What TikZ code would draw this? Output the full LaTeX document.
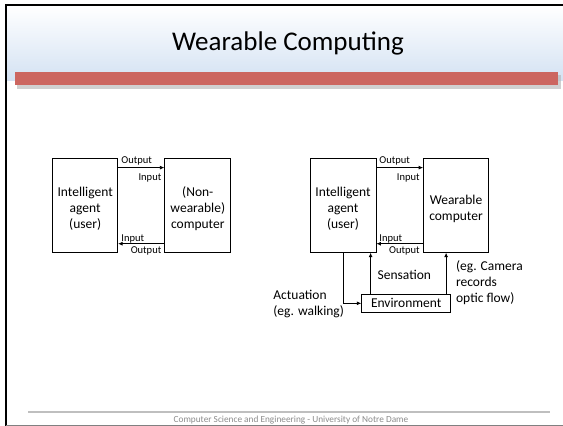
\documentclass[tikz,border=0pt]{standalone}
\usepackage{fontspec}
\setmainfont{Carlito}
\usetikzlibrary{arrows.meta}
\definecolor{barred}{RGB}{204,102,96}
\definecolor{headblue}{RGB}{212,226,243}
\definecolor{footgray}{RGB}{140,140,140}

\begin{document}
\begin{tikzpicture}[x=1pt,y=-1pt,line width=0.8pt,>={Latex[length=4.5pt,width=4pt]},
  box/.style={draw,minimum height=94pt,inner sep=0pt},
  boxtext/.style={align=center,inner sep=0pt,yshift=-3.5pt,font=\fontsize{13.5}{16}\selectfont},
  lbl/.style={inner sep=0pt,font=\fontsize{10.5}{12}\selectfont},
  txt/.style={inner sep=0pt,align=left,font=\fontsize{13.5}{16}\selectfont}]
		% slide frame
		\useasboundingbox (0,0) rectangle (563,426);
		\fill[white] (0,0) rectangle (563,426);
		\shade[top color=white,bottom color=headblue] (6,6) rectangle (563,80);
		\fill[black!30,opacity=.6] (17,75) rectangle (561,89);
		\fill[barred] (15,72) rectangle (558,85);
		\draw[black,line width=2pt] (6,426) -- (6,5) -- (563,5);
		\draw[black!50,line width=1pt] (6,425.5) -- (563,425.5);
		\draw[black!25,line width=2pt] (28,411.5) -- (550,411.5);
		\node[anchor=base,font=\fontsize{27}{32}\selectfont](title) at (288,50) {Wearable Computing};
		\node[anchor=base,text=footgray,font=\fontsize{9.3}{11}\selectfont](foot) at (291,422) {Computer Science and Engineering - University of Notre Dame};
		% left: user and ordinary computer
		\node[box,minimum width=65pt,label={[boxtext]center:Intelligent\\agent\\(user)}](agent1) at (85.2,205.3) {};
		\node[box,minimum width=66pt,label={[boxtext]center:(Non-\\wearable)\\computer}](comp1) at (197.8,205.3) {};
		\draw[->] ([yshift=-9.7pt]agent1.north east) -- ([yshift=-9.7pt]comp1.north west);
		\draw[->] ([yshift=9pt]comp1.south west) -- ([yshift=9pt]agent1.south east);
		\node[lbl,anchor=base west](out1) at (121,163) {Output};
		\node[lbl,anchor=base east](in1) at (161.7,180) {Input};
		\node[lbl,anchor=base west](in2) at (121,241) {Input};
		\node[lbl,anchor=base east](out2) at (161.7,253.5) {Output};
		% right: user, wearable computer and environment
		\node[box,minimum width=66pt,label={[boxtext]center:Intelligent\\agent\\(user)}](agent2) at (343,205.3) {};
		\node[box,minimum width=65pt,label={[boxtext]center:Wearable\\computer}](comp2) at (456,205.3) {};
		\node[draw,minimum width=89pt,minimum height=18.7pt,inner sep=0pt,font=\fontsize{13.5}{16}\selectfont](env) at (406.2,303.3) {Environment\hspace{5pt}};
		\draw[->] ([yshift=-9.7pt]agent2.north east) -- ([yshift=-9.7pt]comp2.north west);
		\draw[->] ([yshift=9pt]comp2.south west) -- ([yshift=9pt]agent2.south east);
		\node[lbl,anchor=base west](out3) at (379,163) {Output};
		\node[lbl,anchor=base east](in3) at (420,180) {Input};
		\node[lbl,anchor=base west](in4) at (379,241) {Input};
		\node[lbl,anchor=base east](out4) at (420,253.5) {Output};
		\coordinate (sens) at ([xshift=9.3pt]env.north west);
		\coordinate (cam) at ([xshift=-5pt]env.north east);
		\draw[->] (agent2.south) |- (env.west);
		\draw[->] (sens) -- (sens |- agent2.south);
		\draw[->] (cam) -- (cam |- comp2.south);
		\node[txt,anchor=base west](sensation) at (377.3,279.4) {Sensation};
		\node[txt,anchor=north west](camera) at (455.7,260.5) {(eg. Camera\\records\\optic flow)};
		\node[txt,anchor=north west](actuation) at (273,289.7) {Actuation\\(eg. walking)};
	\end{tikzpicture}
\end{document}
